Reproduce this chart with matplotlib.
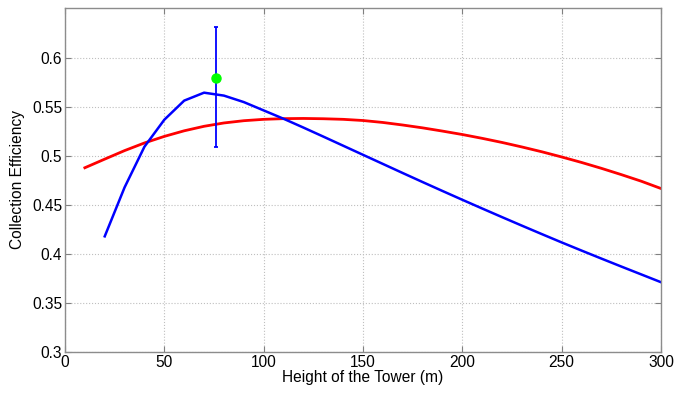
import numpy as np
import matplotlib
matplotlib.use('Agg')
import matplotlib.pyplot as plt

plt.rcParams['font.family'] = ['Liberation Sans', 'DejaVu Sans']

# model curve (blue)
h_blue = [20, 30, 40, 50, 60, 70, 80, 90, 100, 110, 120, 130, 140, 150, 160, 170, 180,
          190, 200, 210, 220, 230, 240, 250, 260, 270, 280, 290, 300]
eff_blue = [0.418, 0.468, 0.5095, 0.537, 0.5565, 0.5646, 0.5616, 0.555, 0.5465, 0.538,
            0.529, 0.5198, 0.5105, 0.5012, 0.4919, 0.4826, 0.4734, 0.4643, 0.4553, 0.4464,
            0.4376, 0.4289, 0.4203, 0.4118, 0.4035, 0.3953, 0.3872, 0.3792, 0.3712]

# fit curve (red)
h_red = [10, 20, 30, 40, 50, 60, 70, 80, 90, 100, 110, 120, 130, 140, 150, 160, 170, 180,
         190, 200, 210, 220, 230, 240, 250, 260, 270, 280, 290, 300]
eff_red = [0.488, 0.4968, 0.5055, 0.5133, 0.5200, 0.5257, 0.5303, 0.5337, 0.5360, 0.5374,
           0.5381, 0.5383, 0.5380, 0.5374, 0.5362, 0.5342, 0.5316, 0.5287, 0.5254, 0.5219,
           0.5180, 0.5138, 0.5092, 0.5043, 0.4990, 0.4934, 0.4874, 0.4810, 0.4743, 0.4668]

# measured point with error bar
h_meas = 76
eff_meas = 0.58
err_low = 0.0705
err_high = 0.052

xticks = [0, 50, 100, 150, 200, 250, 300]
yticks = [0.3, 0.35, 0.4, 0.45, 0.5, 0.55, 0.6]
ytick_labels = ['0.3', '0.35', '0.4', '0.45', '0.5', '0.55', '0.6']

fig = plt.figure(figsize=(6.77, 3.94), dpi=100)
ax = fig.add_axes([0.096, 0.1066, 0.8804, 0.8731])

ax.plot(h_red, eff_red, color=(1, 0, 0), linewidth=2.0)
ax.plot(h_blue, eff_blue, color=(0, 0, 1), linewidth=1.8)
ax.errorbar([h_meas], [eff_meas], yerr=[[err_low], [err_high]], fmt='none',
            ecolor=(0, 0, 1), elinewidth=1.3, capsize=1.5, capthick=1.3)
ax.plot([h_meas], [eff_meas], 'o', color=(0, 1, 0), markersize=6.5)

ax.set_xlim(0, 300)
ax.set_ylim(0.3, 0.651)
ax.set_xticks(xticks)
ax.set_yticks(yticks)
ax.set_yticklabels(ytick_labels)
ax.grid(True, linestyle=':', color=(0.75, 0.75, 0.75), linewidth=0.8)
ax.tick_params(direction='in', length=4, width=0.8, top=True, right=True,
               labelsize=11.2, color=(0.5, 0.5, 0.5), pad=2)
for s in ax.spines.values():
    s.set_color((0.55, 0.55, 0.55))
    s.set_linewidth(1.0)

ax.set_xlabel('Height of the Tower (m)', fontsize=11.2, labelpad=0)
ax.set_ylabel('Collection Efficiency', fontsize=11.2, labelpad=5)

fig.savefig('out.png', dpi=100)
